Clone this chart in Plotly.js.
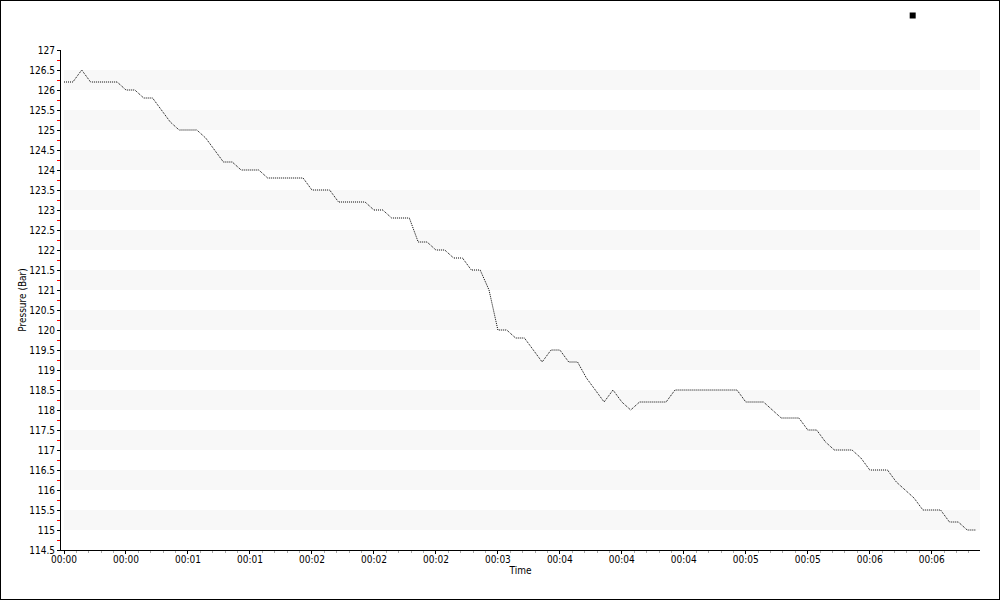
<!DOCTYPE html>
<html>
<head>
<meta charset="utf-8">
<script src="https://cdn.plot.ly/plotly-3.0.1.min.js"></script>
<style>
  html, body { margin: 0; padding: 0; background: #fff; }
  #chart { width: 1000px; height: 600px; box-sizing: border-box; border: 1px solid #000; }
</style>
</head>
<body>
<div id="chart"></div>
<script>
// Pressure samples (Bar), one per sample step
const pressure = [
  126.2, 126.2, 126.5, 126.2, 126.2, 126.2, 126.2, 126.0, 126.0, 125.8,
  125.8, 125.5, 125.2, 125.0, 125.0, 125.0, 124.8, 124.5, 124.2, 124.2,
  124.0, 124.0, 124.0, 123.8, 123.8, 123.8, 123.8, 123.8, 123.5, 123.5,
  123.5, 123.2, 123.2, 123.2, 123.2, 123.0, 123.0, 122.8, 122.8, 122.8,
  122.2, 122.2, 122.0, 122.0, 121.8, 121.8, 121.5, 121.5, 121.0, 120.0,
  120.0, 119.8, 119.8, 119.5, 119.2, 119.5, 119.5, 119.2, 119.2, 118.8,
  118.5, 118.2, 118.5, 118.2, 118.0, 118.2, 118.2, 118.2, 118.2, 118.5,
  118.5, 118.5, 118.5, 118.5, 118.5, 118.5, 118.5, 118.2, 118.2, 118.2,
  118.0, 117.8, 117.8, 117.8, 117.5, 117.5, 117.2, 117.0, 117.0, 117.0,
  116.8, 116.5, 116.5, 116.5, 116.2, 116.0, 115.8, 115.5, 115.5, 115.5,
  115.2, 115.2, 115.0, 115.0
];
const sampleIndex = pressure.map((_, i) => i);

// X-axis ticks (sample index) and their labels
const xTickPositions = [0, 7, 14, 21, 28, 35, 42, 49, 56, 63, 70, 77, 84, 91, 98];
const xTickLabels = ["00:00", "00:00", "00:01", "00:01", "00:02", "00:02", "00:02", "00:03",
                     "00:04", "00:04", "00:04", "00:05", "00:05", "00:06", "00:06"];

// Y-axis ticks
const yTickValues = [114.5, 115, 115.5, 116, 116.5, 117, 117.5, 118, 118.5, 119, 119.5, 120, 120.5,
                     121, 121.5, 122, 122.5, 123, 123.5, 124, 124.5, 125, 125.5, 126, 126.5, 127];
const yTickLabels = ["114.5", "115", "115.5", "116", "116.5", "117", "117.5", "118", "118.5", "119",
                     "119.5", "120", "120.5", "121", "121.5", "122", "122.5", "123", "123.5", "124",
                     "124.5", "125", "125.5", "126", "126.5", "127"];

const FONT = "'DejaVu Sans Condensed', 'DejaVu Sans', sans-serif";

// Alternating light bands between integer and half values (115-115.5, 116-116.5, ...)
const bands = [];
yTickValues.forEach(v => {
  if (Number.isInteger(v) && v + 0.5 <= 127) {
    bands.push({
      type: 'rect', layer: 'below', xref: 'x', yref: 'y',
      x0: sampleIndex[0], x1: 103.45, y0: v, y1: v + 0.5,
      fillcolor: '#f8f8f8', line: { width: 0 }
    });
  }
});

const traces = [
  {
    x: sampleIndex, y: pressure, type: 'scatter', mode: 'lines',
    line: { color: '#000', width: 1, dash: '1px,1px' },
    showlegend: false, hoverinfo: 'skip'
  },
  {
    x: [null], y: [null], type: 'scatter', mode: 'markers',
    marker: { symbol: 'square', size: 6, color: '#000' },
    name: ' ', showlegend: true
  }
];

const layout = {
  width: 998, height: 598,
  margin: { l: 60, r: 19, t: 49, b: 49, autoexpand: false },
  paper_bgcolor: '#fff', plot_bgcolor: '#fff',
  font: { family: FONT, size: 10, color: '#000' },
  showlegend: true,
  legend: { x: 0.905, xanchor: 'left', y: 1.098, yanchor: 'top', bgcolor: 'rgba(0,0,0,0)',
            font: { size: 10 } },
  xaxis: {
    range: [-0.34, 103.45],
    tickmode: 'array', tickvals: xTickPositions, ticktext: xTickLabels,
    ticks: 'outside', ticklen: 3, tickcolor: '#000', tickwidth: 1,
    ticklabelstandoff: -3,
    showline: true, linecolor: '#000', linewidth: 1,
    showgrid: false, zeroline: false,
    minor: { tickmode: 'linear', tick0: 0, dtick: 1.4, ticks: 'outside', ticklen: 2, tickcolor: '#aaa', showgrid: false },
    tickfont: { family: FONT, size: 10, color: '#000' },
    title: { text: 'Time', font: { family: FONT, size: 10, color: '#000' }, standoff: 0 }
  },
  yaxis: {
    range: [114.5, 127],
    tickmode: 'array', tickvals: yTickValues, ticktext: yTickLabels,
    ticks: 'outside', ticklen: 3, tickcolor: '#000', tickwidth: 1,
    showline: true, linecolor: '#000', linewidth: 1,
    showgrid: false, zeroline: false,
    minor: { tickmode: 'linear', tick0: 114.75, dtick: 0.5, ticks: 'outside', ticklen: 3, tickcolor: '#f00', showgrid: false },
    tickfont: { family: FONT, size: 10, color: '#000' },
    title: { text: 'Pressure (Bar)', font: { family: FONT, size: 10, color: '#000' }, standoff: 0 }
  },
  shapes: bands
};

Plotly.newPlot('chart', traces, layout, { displayModeBar: false, staticPlot: true });
</script>
</body>
</html>
